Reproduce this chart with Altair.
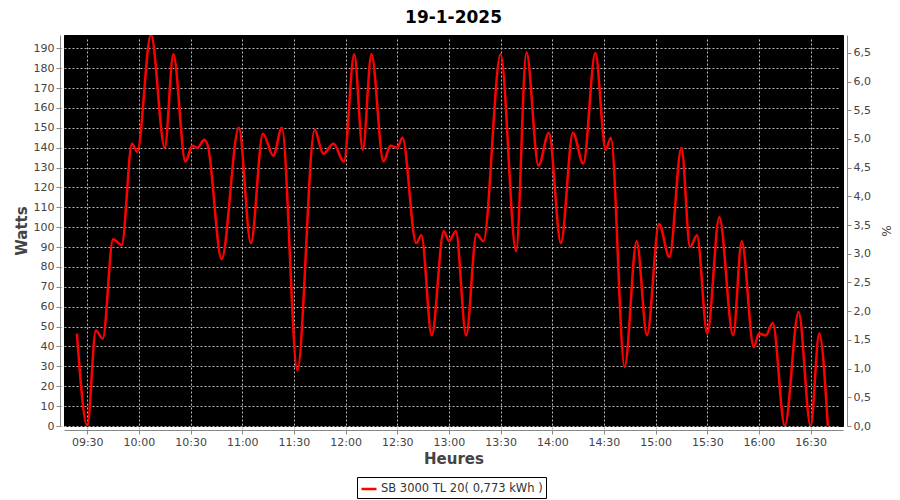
import altair as alt
import pandas as pd

# ---- data ----
times = ["09:24", "09:30", "09:35", "09:39", "09:45", "09:50", "09:56", "09:59",
         "10:07", "10:15", "10:20", "10:27", "10:31", "10:34", "10:38", "10:40",
         "10:48", "10:58", "11:05", "11:12", "11:18", "11:23", "11:32", "11:42",
         "11:47", "11:53", "11:59", "12:05", "12:10", "12:15", "12:22", "12:26",
         "12:30", "12:33", "12:41", "12:44", "12:50", "12:57", "13:00", "13:04",
         "13:10", "13:16", "13:20", "13:30", "13:39", "13:45", "13:52", "13:58",
         "14:05", "14:12", "14:18", "14:25", "14:31", "14:34", "14:42", "14:49",
         "14:55", "15:02", "15:08", "15:15", "15:20", "15:24", "15:30", "15:37",
         "15:45", "15:50", "15:57", "16:00", "16:04", "16:08", "16:15", "16:23",
         "16:30", "16:35", "16:40"]
watts = [46.5, 0, 48, 44, 94, 91, 142, 138,
         197, 140, 187, 133, 141, 140, 144, 141,
         84, 150, 92, 147, 136, 150, 28, 149,
         137, 142, 133, 187, 139, 187, 133, 141,
         140, 145, 92, 96, 45.6, 98, 93, 98,
         45.6, 96.6, 93, 187, 88, 188, 131, 147.5,
         92, 147.5, 132, 187.6, 139, 145, 29.7, 93,
         45.6, 101.6, 85, 140, 90, 96, 46.5, 105,
         45.6, 93, 39.7, 46.5, 45.6, 51.8, 0, 57.3,
         0, 46.5, 0]
series_name = "SB 3000 TL 20( 0,773 kWh )"
x_ticks = ["09:30", "10:00", "10:30", "11:00", "11:30", "12:00", "12:30", "13:00",
           "13:30", "14:00", "14:30", "15:00", "15:30", "16:00", "16:30"]
watt_ticks = list(range(0, 200, 10))
pct_ticks = [0.0, 0.5, 1.0, 1.5, 2.0, 2.5, 3.0, 3.5, 4.0, 4.5, 5.0, 5.5, 6.0, 6.5]


def to_min(s):
    h, m = s.split(":")
    return int(h) * 60 + int(m)


df = pd.DataFrame({"t": [to_min(s) for s in times], "w": watts, "serie": series_name})

time_label = "format(floor(datum.value/60),'02d') + ':' + format(datum.value%60,'02d')"

x_enc = alt.X(
    "t:Q",
    scale=alt.Scale(domain=[556.5, 1008.8], nice=False, zero=False),
    axis=alt.Axis(values=[to_min(s) for s in x_ticks], labelExpr=time_label,
                  title="Heures", grid=True),
)

line = alt.Chart(df).mark_line(strokeWidth=2.5, interpolate="monotone", clip=True).encode(
    x=x_enc,
    y=alt.Y("w:Q", scale=alt.Scale(domain=[0, 196.7], nice=False),
            axis=alt.Axis(values=watt_ticks, title="Watts", grid=True, orient="left")),
    color=alt.Color("serie:N", scale=alt.Scale(range=["#ff0000"]),
                    legend=alt.Legend(title=None, orient="none", legendX=293, legendY=442,
                                      direction="horizontal", symbolType="stroke",
                                      symbolStrokeWidth=2.5, symbolSize=225,
                                      strokeColor="black", fillColor="white",
                                      padding=3, labelFontSize=11.5, labelColor="#333",
                                      labelFont="DejaVu Sans", labelLimit=400,
                                      labelOffset=3)),
)

right = alt.Chart(df).transform_calculate(p="0").mark_line(opacity=0).encode(
    x=x_enc,
    y=alt.Y("p:Q", scale=alt.Scale(domain=[0, 6.81], nice=False),
            axis=alt.Axis(values=pct_ticks, orient="right", title="%", grid=False,
                          titleFontSize=12, titleFontWeight="normal", titlePadding=8,
                          labelExpr="replace(format(datum.value,'.1f'),'.',',')")),
)

chart = alt.layer(line, right).resolve_scale(y="independent").properties(
    width=779, height=391,
    background="white",
    autosize=alt.AutoSizeParams(type="none"),
    padding={"left": 56, "top": 27, "right": 49, "bottom": 80},
    title=alt.TitleParams("19-1-2025", fontSize=17, font="DejaVu Sans", fontWeight="bold",
                          color="black", anchor="middle", offset=8),
).configure_view(fill="black", stroke="black").configure_axis(
    offset=4, domainColor="#888", tickColor="#888", tickSize=4,
    labelColor="#444", labelFont="DejaVu Sans", labelFontSize=11, labelPadding=2,
    titleColor="#444", titleFont="DejaVu Sans", titleFontSize=15, titleFontWeight="bold",
    gridColor="#bbbbbb", gridDash=[2, 2], gridWidth=1,
)

chart.save("out.html", embed_options={"renderer": "svg", "actions": False})
